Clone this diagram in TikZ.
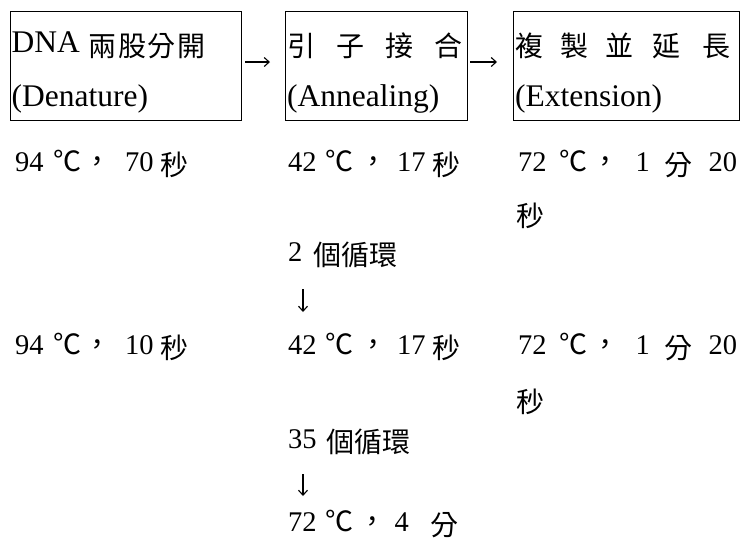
\documentclass[tikz,border=0pt]{standalone}
\usepackage{fontspec}
\setmainfont{Liberation Serif}
\newfontfamily\cjk{Noto Sans CJK TC}
\usetikzlibrary{arrows.meta}
\newcommand\zh[1]{\raisebox{-4pt}{\cjk\fontsize{28pt}{30pt}\selectfont #1}}
\newcommand\zs[1]{{\cjk\fontsize{28pt}{30pt}\selectfont #1}}
\newcommand\zc{\hspace*{1pt}\zs{，}}
\newcommand\tk[2]{\makebox[#1pt][l]{#2}}
\tikzset{
 box/.style={draw, line width=1.3pt, inner sep=0pt, anchor=north west},
 txt/.style={anchor=base west, inner sep=0pt, font=\fontsize{31.5pt}{36pt}\selectfont},
 row/.style={anchor=base west, inner sep=0pt, font=\fontsize{28.5pt}{34pt}\selectfont},
 arr/.style={line width=1.1pt, -{Straight Barb[length=5pt,width=9pt]}},
}
\begin{document}
\begin{tikzpicture}[x=1pt,y=-1pt]
\useasboundingbox (0,0) rectangle (741,539);
% boxes
\node[box, minimum width=231pt, minimum height=109pt] (b1) at (10,11) {};
\node[box, minimum width=182pt, minimum height=109pt] (b2) at (285,11) {};
\node[box, minimum width=226pt, minimum height=109pt] (b3) at (513,11) {};
% box texts
\node[txt] (t1a) at (11.5,52) {\tk{77}{DNA}\tk{29.5}{\zh{兩}}\tk{29.5}{\zh{股}}\tk{29.5}{\zh{分}}\zh{開}};
\node[txt] (t1b) at (11.5,106) {(Denature)};
\node[txt] (t2a) at (287,52) {\tk{49}{\zh{引}}\tk{49}{\zh{子}}\tk{49.5}{\zh{接}}\zh{合}};
\node[txt] (t2b) at (287,106) {(Annealing)};
\node[txt] (t3a) at (515,52) {\tk{45}{\zh{複}}\tk{45}{\zh{製}}\tk{47}{\zh{並}}\tk{50}{\zh{延}}\zh{長}};
\node[txt] (t3b) at (515,106) {(Extension)};
% arrows between boxes
\coordinate (a1s) at (245,62);
\coordinate (a1e) at (270,62);
\coordinate (a2s) at (470,62);
\coordinate (a2e) at (497,62);
\draw[arr] (a1s) -- (a1e);
\draw[arr] (a2s) -- (a2e);
% row 1
\node[row] (r1a) at (15,171) {\tk{38.5}{94}\tk{29}{\zs{℃}}\tk{42.5}{\zc}\tk{35}{70}\zh{秒}};
\node[row] (r1b) at (288,171) {\tk{37.5}{42}\tk{33}{\zs{℃}}\tk{38.5}{\zc}\tk{35.5}{17}\zh{秒}};
\node[row] (r1c) at (518,171) {\tk{41.5}{72}\tk{31}{\zs{℃}}\tk{45}{\zc}\tk{28.5}{1}\tk{44.5}{\zh{分}}20};
\node[row] (r2c) at (516,222) {\zh{秒}};
% cycles 1
\node[row] (r3b) at (288,261) {\tk{25.5}{2}\zh{個循環}};
\coordinate (d1s) at (303,289);
\coordinate (d1e) at (303,312);
\draw[arr] (d1s) -- (d1e);
% row 4
\node[row] (r4a) at (15,354) {\tk{38.5}{94}\tk{29}{\zs{℃}}\tk{42.5}{\zc}\tk{35}{10}\zh{秒}};
\node[row] (r4b) at (288,354) {\tk{37.5}{42}\tk{33}{\zs{℃}}\tk{38.5}{\zc}\tk{35.5}{17}\zh{秒}};
\node[row] (r4c) at (518,354) {\tk{41.5}{72}\tk{31}{\zs{℃}}\tk{45}{\zc}\tk{28.5}{1}\tk{44.5}{\zh{分}}20};
\node[row] (r5c) at (516,408) {\zh{秒}};
% cycles 2
\node[row] (r6b) at (288,448) {\tk{38.5}{35}\zh{個循環}};
\coordinate (d2s) at (303,474);
\coordinate (d2e) at (303,496);
\draw[arr] (d2s) -- (d2e);
\node[row] (r7b) at (288,531) {\tk{37.5}{72}\tk{31.5}{\zs{℃}}\tk{37.5}{\zc}\tk{35.5}{4}\zh{分}};
\end{tikzpicture}
\end{document}
